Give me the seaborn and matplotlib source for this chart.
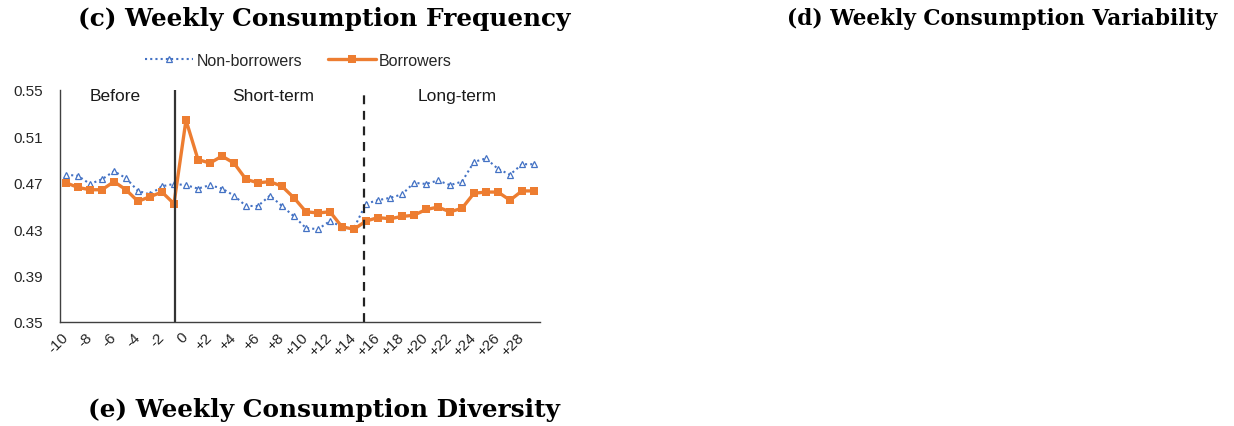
import numpy as np
import pandas as pd
import seaborn as sns
import matplotlib.pyplot as plt
from matplotlib.lines import Line2D

weeks = list(range(-10, 30))

non_borrowers = [0.477, 0.476, 0.469, 0.473, 0.480, 0.474, 0.463, 0.460, 0.467, 0.469,
                 0.468, 0.465, 0.468, 0.465, 0.459, 0.450, 0.450, 0.459, 0.450, 0.441,
                 0.431, 0.430, 0.437, 0.432, 0.431, 0.452, 0.455, 0.457, 0.460, 0.470,
                 0.469, 0.472, 0.468, 0.471, 0.488, 0.491, 0.482, 0.477, 0.486, 0.486]

borrowers = [0.470, 0.466, 0.464, 0.464, 0.471, 0.464, 0.454, 0.458, 0.462, 0.452,
             0.524, 0.490, 0.487, 0.493, 0.487, 0.473, 0.470, 0.471, 0.467, 0.457,
             0.445, 0.444, 0.445, 0.432, 0.430, 0.437, 0.440, 0.439, 0.441, 0.442,
             0.447, 0.449, 0.445, 0.448, 0.461, 0.462, 0.462, 0.455, 0.463, 0.463]

tick_weeks = list(range(-10, 29, 2))
tick_labels = [str(w) if w <= 0 else "+" + str(w) for w in tick_weeks]

df = pd.DataFrame({
    "week": weeks * 2,
    "value": non_borrowers + borrowers,
    "group": ["Non-borrowers"] * len(weeks) + ["Borrowers"] * len(weeks),
})

sns.set_style("white")
plt.rcParams["font.family"] = ["Liberation Sans", "DejaVu Sans"]

blue = "#4472C4"
orange = "#ED7D31"

fig = plt.figure(figsize=(12.34, 4.27), dpi=100)
ax = fig.add_axes([0.0486, 0.2436, 0.389, 0.5433])

nb = df[df.group == "Non-borrowers"]
b = df[df.group == "Borrowers"]

sns.lineplot(data=nb, x="week", y="value", ax=ax, color=blue, lw=1.5,
             linestyle=(0, (1, 1.5)), marker="^", markersize=5,
             markerfacecolor="white", markeredgecolor=blue, markeredgewidth=0.9)
sns.lineplot(data=b, x="week", y="value", ax=ax, color=orange, lw=2.4,
             marker="s", markersize=5.5, markeredgewidth=0)

# period separators
ax.axvline(-0.95, color="#333333", lw=1.6)
ax.axvline(14.8, color="#222222", lw=1.6, linestyle=(0, (4, 3)))

ax.text(-5.9, 0.5455, "Before", ha="center", va="center", fontsize=12.5, color="#1a1a1a")
ax.text(7.3, 0.5455, "Short-term", ha="center", va="center", fontsize=12.5, color="#1a1a1a")
ax.text(22.6, 0.5455, "Long-term", ha="center", va="center", fontsize=12.5, color="#1a1a1a")

ax.set_xlim(-10.5, 29.5)
ax.set_ylim(0.35, 0.55)
ax.set_yticks(np.arange(0.35, 0.5501, 0.04))
ax.set_yticklabels([f"{v:.2f}" for v in np.arange(0.35, 0.5501, 0.04)])
ax.set_xticks(tick_weeks)
ax.set_xticklabels(tick_labels, rotation=45, ha="right", va="center",
                   rotation_mode="anchor")
ax.tick_params(axis="both", length=0, labelsize=11, colors="#262626")
ax.tick_params(axis="y", pad=12)
ax.tick_params(axis="x", pad=9)
ax.set_xlabel("")
ax.set_ylabel("")
for s in ["top", "right"]:
    ax.spines[s].set_visible(False)
for s in ["left", "bottom"]:
    ax.spines[s].set_color("#404040")
    ax.spines[s].set_linewidth(1.0)

handles = [
    Line2D([], [], color=blue, lw=1.5, linestyle=(0, (1, 1.5)), marker="^", markersize=5,
           markerfacecolor="white", markeredgecolor=blue, markeredgewidth=0.9),
    Line2D([], [], color=orange, lw=2.4, marker="s", markersize=5.5, markeredgewidth=0),
]
fig.legend(handles, ["Non-borrowers", "Borrowers"], loc="center",
           bbox_to_anchor=(0.242, 0.857), ncol=2, frameon=False, fontsize=11.5,
           handlelength=3.0, columnspacing=1.6, handletextpad=0.2)

title_kw = dict(fontweight="bold", family="DejaVu Serif",
                ha="center", va="center", color="black")
fig.text(0.2625, 0.955, "(c) Weekly Consumption Frequency", fontsize=17.8, **title_kw)
fig.text(0.812, 0.955, "(d) Weekly Consumption Variability", fontsize=15.6, **title_kw)
fig.text(0.2625, 0.04, "(e) Weekly Consumption Diversity", fontsize=17.8, **title_kw)

fig.savefig("out.png", dpi=100)
